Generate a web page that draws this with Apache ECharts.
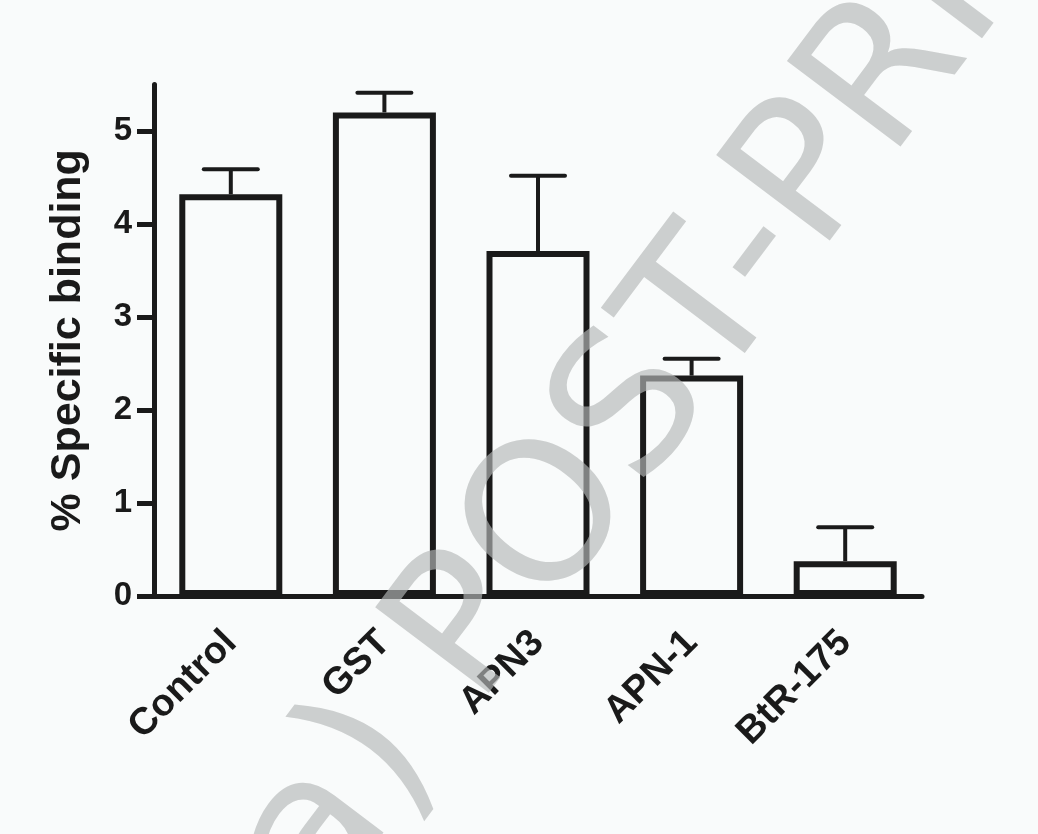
<!DOCTYPE html>
<html>
<head>
<meta charset="utf-8">
<script src="https://cdn.jsdelivr.net/npm/echarts@6/dist/echarts.min.js"></script>
<style>
html,body{margin:0;padding:0;background:#f9fbfb;}
#chart{width:1038px;height:834px;}
</style>
</head>
<body>
<div id="chart"></div>
<script>
var categories = ['Control', 'GST', 'APN3', 'APN-1', 'BtR-175'];
var means = [4.32, 5.20, 3.71, 2.37, 0.375];
var errors = [0.27, 0.21, 0.81, 0.18, 0.365];
var yTicks = [0, 1, 2, 3, 4, 5];
var yTitle = '% Specific binding';
var watermark = '(a) POST-PRINT';

var ink = '#1a1a1a';
var font = 'Liberation Sans, Arial, sans-serif';

var chart = echarts.init(document.getElementById('chart'), null, {renderer: 'canvas'});

var errData = categories.map(function (c, i) { return [i, means[i], errors[i]]; });

var option = {
  backgroundColor: '#f9fbfb',
  animation: false,
  grid: { left: 154, right: 116, top: 84.5, bottom: 238, containLabel: false },
  xAxis: {
    type: 'category',
    data: categories,
    axisLine: { lineStyle: { color: ink, width: 5, cap: 'round' } },
    axisTick: { alignWithLabel: true, length: 15, lineStyle: { color: ink, width: 4, cap: 'round' } },
    axisLabel: {
      rotate: 45, margin: 41, color: ink, fontSize: 38, fontWeight: 'bold', fontFamily: font,
      interval: 0
    },
    splitLine: { show: false }
  },
  yAxis: {
    type: 'value',
    min: 0, max: 5.5,
    name: yTitle,
    nameLocation: 'middle',
    nameGap: 64,
    nameTextStyle: { color: ink, fontSize: 43, fontWeight: 'bold', fontFamily: font },
    axisLine: { show: true, lineStyle: { color: ink, width: 5, cap: 'round' } },
    axisTick: { show: true, length: 17, customValues: yTicks, lineStyle: { color: ink, width: 5 } },
    axisLabel: { customValues: yTicks, margin: 22, color: ink, fontSize: 33, fontWeight: 'bold', fontFamily: font },
    splitLine: { show: false }
  },
  series: [
    {
      type: 'bar',
      data: means,
      barWidth: 103,
      itemStyle: { color: '#f9fbfb', borderColor: ink, borderWidth: 6 },
      z: 2
    },
    {
      type: 'custom',
      data: errData,
      z: 3,
      renderItem: function (params, api) {
        var idx = api.value(0);
        var v = api.value(1);
        var e = api.value(2);
        var p0 = api.coord([idx, v]);
        var p1 = api.coord([idx, v + e]);
        var hw = 27;
        return {
          type: 'group',
          children: [
            { type: 'line', shape: { x1: p0[0], y1: p0[1], x2: p1[0], y2: p1[1] },
              style: { stroke: ink, lineWidth: 4 } },
            { type: 'line', shape: { x1: p1[0] - hw, y1: p1[1], x2: p1[0] + hw, y2: p1[1] },
              style: { stroke: ink, lineWidth: 4, lineCap: 'round' } }
          ]
        };
      }
    }
  ],
  graphic: [
    {
      type: 'text',
      x: 236, y: 944,
      rotation: 53 * Math.PI / 180,
      z: 100,
      silent: true,
      style: {
        text: watermark,
        font: 'normal 195px "DejaVu Sans", sans-serif',
        fill: 'rgba(181,183,183,0.66)',
        textAlign: 'left',
        textVerticalAlign: 'middle',
        align: 'left',
        verticalAlign: 'middle'
      }
    }
  ]
};

chart.setOption(option);
</script>
</body>
</html>
